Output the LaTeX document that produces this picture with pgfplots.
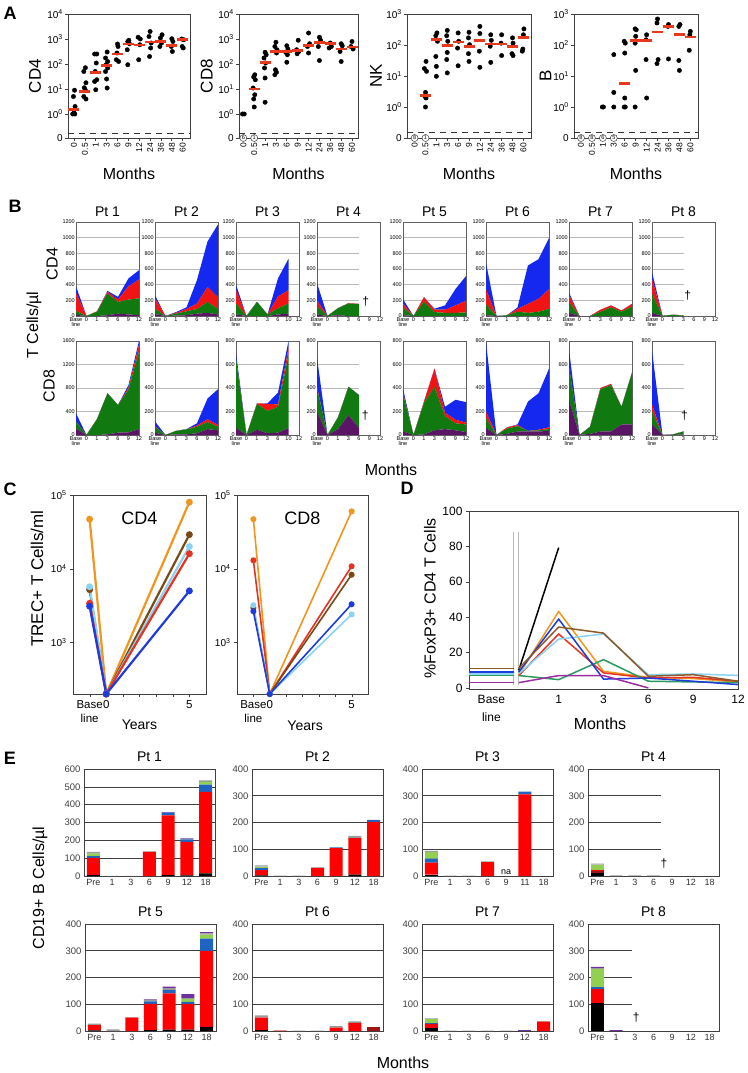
\documentclass[border=0pt]{standalone}
\usepackage{fontspec}
\setmainfont{Liberation Sans}
\usepackage{pgfplots}
\pgfplotsset{compat=1.18}
\newcommand{\fs}[1]{\fontsize{#1}{#1}\selectfont}
\newcommand{\sx}[1]{10\textsuperscript{#1}}
\definecolor{bpur}{HTML}{5A1566}
\definecolor{bgrn}{HTML}{107A10}
\definecolor{bred}{HTML}{F01414}
\definecolor{bblu}{HTML}{1428F0}
\definecolor{corange}{HTML}{F0961E}
\definecolor{cbrown}{HTML}{7A4A14}
\definecolor{clblue}{HTML}{8AD4F2}
\definecolor{cred}{HTML}{E63222}
\definecolor{cblue}{HTML}{1E3CDC}
\definecolor{dbrown}{HTML}{8C5A28}
\definecolor{dgreen}{HTML}{2A9A60}
\definecolor{dpurple}{HTML}{9A2EA0}
\definecolor{edred}{HTML}{A01418}
\definecolor{ered}{HTML}{FF0000}
\definecolor{eblue}{HTML}{1E64C0}
\definecolor{egreen}{HTML}{92D050}
\definecolor{egray}{HTML}{9A9A9A}
\definecolor{epur}{HTML}{7030A0}
\definecolor{medred}{HTML}{E8381E}
\pgfplotsset{
 every axis/.append style={scale only axis, anchor=north west,
   /pgf/number format/assume math mode=true, /pgf/number format/1000 sep={}},
 Aax/.style={height=124pt, clip=false,
   xtick={0,...,10}, xticklabels={0,0.5,1,3,6,9,12,24,36,48,60},
   xticklabel style={rotate=90, anchor=east, font=\fs{8.5}, inner sep=2pt},
   yticklabel style={font=\fs{10}, inner sep=2pt},
   tick pos=left, tick align=outside, major tick length=3pt,
   axis line style={black!75, line width=0.8pt}, tick style={black!75, line width=0.7pt},
   xlabel={Months}, xlabel style={font=\fs{16}, at={(0.5,-0.285)}, anchor=center},
   ylabel style={font=\fs{17}, anchor=center}},
 Alo/.style={ymin=-0.96, ymax=4, ytick={-0.96,0,1,2,3,4}, yticklabels={0,\sx{0},\sx{1},\sx{2},\sx{3},\sx{4}}},
 Ahi/.style={ymin=-1, ymax=3, ytick={-1,0,1,2,3}, yticklabels={0,\sx{0},\sx{1},\sx{2},\sx{3}}},
 dots/.style={only marks, mark=*, mark size=2.2pt, color=black},
 med/.style={only marks, mark=-, mark size=5.5pt, mark options={line width=2.6pt, draw=medred}},
 dsh/.style={black!80, line width=1pt, dash pattern=on 6pt off 5pt},
 zc/.style={only marks, mark=text, text mark={#1}, text mark as node=true,
   text mark style={circle, draw=black!75, line width=0.5pt, fill=white, inner sep=0.3pt, minimum size=7pt, font=\fs{5.5}, text=black}},
 Bax/.style={width=63pt, height=94pt, xmin=0, xmax=6, ymin=0, stack plots=y, no markers,
   xtick={0,...,6}, xticklabels={Base\\line,0,1,3,6,9,12},
   xticklabel style={font=\fs{5.5}, align=center, inner sep=1.5pt},
   yticklabel style={font=\fs{5.5}, inner sep=1pt},
   major tick length=0pt, ymajorgrids, grid style={gray!55, line width=0.7pt},
   axis line style={gray!75!black, line width=0.8pt},
   every axis title/.style={at={(0.5,1)}, anchor=south, yshift=2pt, font=\fs{14}},
   every axis plot/.append style={draw=none}},
 Btop/.style={ymax=1200, ytick={0,200,...,1200}},
 Bbot/.style={ymax=800, ytick={0,200,...,800}},
 Bgrid/.style={width=63pt, height=94pt, xmin=0, xmax=6, ymin=0, hide axis},
 gl/.style={gray!55, line width=0.7pt, no markers},
 Cax/.style={height=199pt, ymin=200, ymax=100000, xmin=-2, xmax=6,
   xtick={-1,0,1,2,3,4,5}, xticklabels={Base\\line,0,,,,,5},
   xticklabel style={font=\fontsize{11.5}{14}\selectfont, align=center},
   ytick={1000,10000,100000}, yticklabels={\sx{3},\sx{4},\sx{5}}, yticklabel style={font=\fs{10}},
   yminorticks=false, tick pos=left, tick align=outside, major tick length=3pt,
   axis line style={black!75, line width=0.8pt}, tick style={black!75},
   xlabel={Years}, xlabel style={font=\fs{14}, anchor=center},
   every axis title/.style={at={(0.5,0.885)}, anchor=center, font=\fs{18}}},
 cl/.style={color=#1, mark=*, mark size=2.3pt, line width=2.2pt},
 cl8/.style={color=#1, mark=*, mark size=2.2pt, line width=1.6pt},
 Eax/.style={width=131pt, height=107pt, ybar stacked, bar width=13pt, xmin=-0.5, xmax=6.5, ymin=0,
   xtick={0,...,6}, xticklabels={Pre,1,3,6,9,12,18}, xticklabel style={font=\fs{9}, text=black!80},
   yticklabel style={font=\fs{9.5}, text=black!75}, major tick length=0pt,
   ymajorgrids, grid style={black!75, line width=0.6pt}, axis line style={black!75, line width=0.8pt},
   every axis title/.style={at={(0.5,1)}, anchor=south, yshift=4pt, font=\fs{14}},
   every axis plot/.append style={draw=none}},
 E4/.style={ymax=400, ytick={0,100,...,400}},
 Egrid/.style={width=131pt, height=107pt, xmin=-0.5, xmax=6.5, ymin=0, ymax=400, hide axis},
 egl/.style={black!75, line width=0.6pt, no markers},
}
\begin{document}
\begin{tikzpicture}
\path[use as bounding box, fill=white] (0,0) rectangle (747pt,-1073pt);
% panel letters
\node[font=\bfseries\fs{18}] at (10pt,-13pt) {A};
\node[font=\bfseries\fs{18}] at (15pt,-206pt) {B};
\node[font=\bfseries\fs{18}] at (10pt,-489pt) {C};
\node[font=\bfseries\fs{18}] at (407pt,-488pt) {D};
\node[font=\bfseries\fs{18}] at (10pt,-758pt) {E};

% ================= A =================
\begin{axis}[Aax, Alo, at={(68pt,-14pt)}, width=122pt, xmin=-0.55, xmax=10.67, ylabel={CD4}, ylabel style={at={(-0.27,0.5)}}]
\addplot[dsh] coordinates {(-0.55,-0.76) (10.67,-0.76)};
\addplot[dots] coordinates {(-0.12,0)(0.08,0)(0.0,0.05)(0.1,0.3)(-0.05,0.7)(0.05,0.95)
 (1.05,1.85)(0.9,1.7)(1.1,1.25)(0.95,1.05)(1.05,0.95)(0.9,0.7)(1.1,0.6)
 (1.9,2.4)(2.1,2.4)(2.05,2.04)(1.95,1.7)(2.1,1.37)(1.9,1.3)(2.0,0.97)
 (3.05,2.48)(2.9,2.24)(3.1,2.1)(2.95,1.97)(3.1,1.84)(2.9,1.7)(3.0,1.4)(3.05,1.04)
 (4.0,2.8)(4.05,2.7)(3.95,2.44)(3.9,2.17)(4.1,2.1)
 (5.05,2.95)(4.95,2.9)(5.1,2.81)(4.9,2.57)(4.95,1.97)
 (5.9,3.07)(6.1,3.0)(6.05,2.77)(5.95,2.17)
 (7.0,3.3)(6.9,3.1)(7.1,2.84)(7.05,2.64)(6.95,2.3)
 (8.1,3.17)(7.95,3.04)(8.05,2.84)(7.9,2.7)
 (9.0,3.01)(9.1,2.9)(8.95,2.7)(9.05,2.5)
 (9.9,3.0)(10.1,2.97)(9.95,2.7)(10.05,2.64)};
\addplot[med] coordinates {(0,0.17)(1,0.9)(2,1.67)(3,1.93)(4,2.4)(5,2.8)(6,2.76)(7,2.88)(8,2.9)(9,2.75)(10,2.97)};
\end{axis}

\begin{axis}[Aax, Alo, at={(239pt,-14pt)}, width=119pt, xmin=-0.4, xmax=10.55, ylabel={CD8}, ylabel style={at={(-0.27,0.5)}}]
\addplot[dsh] coordinates {(-0.4,-0.76) (10.55,-0.76)};
\addplot[dots] coordinates {(-0.08,0)(0.08,0)
 (1.05,1.57)(0.95,1.48)(1.1,1.37)(0.9,1.04)(1.05,0.77)(0.95,0.6)(1.0,0.28)
 (2.0,2.47)(2.1,2.37)(1.9,2.24)(2.05,2.04)(1.95,1.84)(2.0,1.44)(2.0,0.47)
 (3.0,2.87)(2.9,2.7)(3.1,2.57)(3.05,2.44)(2.95,1.77)(3.05,1.67)(2.9,1.57)
 (4.0,2.73)(4.1,2.6)(3.9,2.47)(4.05,2.37)(4.0,2.07)
 (5.05,2.95)(4.9,2.57)(5.1,2.5)(4.95,2.41)
 (6.0,3.24)(6.1,2.81)(5.9,2.7)(6.0,2.44)
 (7.0,3.07)(7.1,2.95)(6.9,2.7)(7.0,2.14)
 (8.0,2.84)(8.1,2.7)(7.9,2.64)
 (9.0,2.81)(9.1,2.73)(8.9,2.5)(9.0,2.1)
 (10.0,2.9)(9.9,2.7)(10.1,2.6)};
\addplot[med] coordinates {(1,1.0)(2,2.07)(3,2.5)(4,2.5)(5,2.55)(6,2.73)(7,2.87)(8,2.81)(9,2.6)(10,2.68)};
\addplot[zc=6] coordinates {(0,-0.96)};
\addplot[zc=1] coordinates {(1,-0.96)};
\end{axis}

\begin{axis}[Aax, Ahi, at={(407pt,-14pt)}, width=124pt, xmin=-0.7, xmax=10.7, ylabel={NK}, ylabel style={at={(-0.25,0.5)}}]
\addplot[dsh] coordinates {(-0.7,-0.82) (10.7,-0.82)};
\addplot[dots] coordinates {(1.05,1.47)(0.9,1.24)(1.1,1.15)(1.0,0.47)(0.95,0.34)(1.05,0.29)(1.0,0)
 (2.05,2.39)(1.95,2.3)(2.1,2.12)(1.95,1.63)(2.0,1.31)(2.0,0.99)
 (3.0,2.47)(2.95,2.3)(3.05,2.12)(3.0,1.76)(2.95,1.53)(3.0,1.1)
 (4.0,2.39)(4.05,2.12)(3.95,1.9)(4.0,1.33)
 (5.0,2.41)(4.95,2.23)(5.05,2.01)(4.95,1.72)(5.0,1.47)
 (6.0,2.6)(6.0,2.37)(5.95,1.8)(6.0,1.28)
 (7.0,2.33)(7.05,2.15)(6.95,1.96)(7.0,1.44)
 (8.0,2.33)(7.95,2.06)(8.0,1.66)
 (9.0,2.23)(9.05,2.06)(8.95,1.72)(9.05,1.66)
 (10.05,2.52)(10.0,2.33)(9.95,1.87)(9.9,1.8)};
\addplot[med] coordinates {(1,0.38)(2,2.17)(3,1.98)(4,2.1)(5,1.96)(6,2.14)(7,2.03)(8,2.03)(9,1.96)(10,2.25)};
\addplot[zc=8] coordinates {(0,-1)};
\addplot[zc=1] coordinates {(1,-1)};
\end{axis}

\begin{axis}[Aax, Ahi, at={(574pt,-14pt)}, width=124pt, xmin=-0.64, xmax=10.7, ylabel={B}, ylabel style={at={(-0.23,0.5)}}]
\addplot[dsh] coordinates {(-0.64,-0.82) (10.7,-0.82)};
\addplot[dots] coordinates {(1.95,0)(2.05,0)
 (3.0,1.69)(3.0,0.47)(3.0,0)
 (3.95,2.12)(4.05,2.06)(4.0,1.74)(4.0,0.29)(3.95,0)(4.05,0)
 (4.95,2.52)(5.05,2.49)(5.0,2.28)(4.95,2.06)(5.0,1.18)(4.95,0)
 (6.0,2.33)(5.95,2.17)(5.95,1.53)(6.0,0.29)
 (7.0,2.84)(6.95,2.71)(7.05,1.53)(6.95,1.4)
 (8.0,2.66)(7.95,2.6)(8.0,1.55)
 (9.05,2.66)(8.95,2.6)(8.95,1.5)(9.0,1.18)
 (10.0,2.44)(9.95,2.33)(9.9,1.83)};
\addplot[med] coordinates {(4,0.75)(5,2.15)(6,2.15)(7,2.42)(8,2.6)(9,2.33)(10,2.26)};
\addplot[zc=8] coordinates {(0,-1)};
\addplot[zc=8] coordinates {(1,-1)};
\addplot[zc=6] coordinates {(2,-1)};
\addplot[zc=5] coordinates {(3,-1)};
\end{axis}

% ================= B =================
\node[rotate=90, font=\fs{16}] at (52pt,-264pt) {CD4};
\node[rotate=90, font=\fs{16}] at (49pt,-386pt) {CD8};
\node[rotate=90, font=\fs{16}] at (34pt,-325pt) {T Cells/µl};
\node[font=\fs{16}] at (391pt,-470pt) {Months};

\begin{axis}[Bax, Btop, at={(76pt,-222pt)}, title={Pt 1}]
\addplot[fill=bpur] coordinates {(0,15)(1,0)(2,0)(3,10)(4,30)(5,20)(6,10)} \closedcycle;
\addplot[fill=bgrn] coordinates {(0,50)(1,0)(2,55)(3,280)(4,150)(5,190)(6,215)} \closedcycle;
\addplot[fill=bred] coordinates {(0,230)(1,0)(2,5)(3,20)(4,30)(5,170)(6,240)} \closedcycle;
\addplot[fill=bblu] coordinates {(0,85)(1,0)(2,0)(3,10)(4,35)(5,100)(6,120)} \closedcycle;
\end{axis}
\begin{axis}[Bax, Btop, at={(155pt,-222pt)}, title={Pt 2}]
\addplot[fill=bpur] coordinates {(0,25)(1,0)(2,5)(3,10)(4,30)(5,40)(6,20)} \closedcycle;
\addplot[fill=bgrn] coordinates {(0,70)(1,0)(2,25)(3,50)(4,60)(5,140)(6,70)} \closedcycle;
\addplot[fill=bred] coordinates {(0,130)(1,0)(2,10)(3,30)(4,70)(5,190)(6,150)} \closedcycle;
\addplot[fill=bblu] coordinates {(0,40)(1,0)(2,10)(3,20)(4,300)(5,580)(6,930)} \closedcycle;
\end{axis}
\begin{axis}[Bax, Btop, at={(236pt,-222pt)}, title={Pt 3}, xticklabels={Base\\line,0,1,3,6,10,12}]
\addplot[fill=bpur] coordinates {(0,20)(1,0)(2,0)(3,0)(4,20)(5,30)} \closedcycle;
\addplot[fill=bgrn] coordinates {(0,140)(1,0)(2,180)(3,20)(4,80)(5,130)} \closedcycle;
\addplot[fill=bred] coordinates {(0,170)(1,0)(2,0)(3,0)(4,150)(5,170)} \closedcycle;
\addplot[fill=bblu] coordinates {(0,70)(1,0)(2,0)(3,0)(4,230)(5,400)} \closedcycle;
\end{axis}
\begin{axis}[Bgrid, ymax=1200, at={(317pt,-222pt)}]
\addplot[gl] coordinates {(0,200)(4,200)};
\addplot[gl] coordinates {(0,400)(4,400)};
\addplot[gl] coordinates {(0,600)(4,600)};
\addplot[gl] coordinates {(0,800)(4,800)};
\addplot[gl] coordinates {(0,1000)(4,1000)};
\end{axis}
\begin{axis}[Bax, Btop, ymajorgrids=false, at={(317pt,-222pt)}, title={Pt 4}]
\addplot[fill=bpur] coordinates {(0,20)(1,0)(2,10)(3,0)(4,0)} \closedcycle;
\addplot[fill=bgrn] coordinates {(0,110)(1,0)(2,90)(3,160)(4,150)} \closedcycle;
\addplot[fill=bred] coordinates {(0,70)(1,0)(2,0)(3,5)(4,5)} \closedcycle;
\addplot[fill=bblu] coordinates {(0,220)(1,0)(2,0)(3,0)(4,0)} \closedcycle;
\node[font=\fs{12}] at (axis cs:4.65,190) {\textdagger};
\end{axis}
\begin{axis}[Bax, Btop, at={(403pt,-222pt)}, title={Pt 5}]
\addplot[fill=bpur] coordinates {(0,10)(1,0)(2,0)(3,0)(4,0)(5,0)(6,0)} \closedcycle;
\addplot[fill=bgrn] coordinates {(0,100)(1,0)(2,185)(3,50)(4,40)(5,40)(6,45)} \closedcycle;
\addplot[fill=bred] coordinates {(0,50)(1,0)(2,55)(3,30)(4,40)(5,95)(6,150)} \closedcycle;
\addplot[fill=bblu] coordinates {(0,55)(1,0)(2,0)(3,13)(4,55)(5,210)(6,315)} \closedcycle;
\end{axis}
\begin{axis}[Bax, Btop, at={(486pt,-222pt)}, title={Pt 6}]
\addplot[fill=bpur] coordinates {(0,10)(1,0)(2,0)(3,0)(4,0)(5,0)(6,0)} \closedcycle;
\addplot[fill=bgrn] coordinates {(0,140)(1,0)(2,10)(3,55)(4,40)(5,55)(6,90)} \closedcycle;
\addplot[fill=bred] coordinates {(0,190)(1,0)(2,0)(3,35)(4,115)(5,165)(6,250)} \closedcycle;
\addplot[fill=bblu] coordinates {(0,340)(1,0)(2,0)(3,20)(4,490)(5,505)(6,655)} \closedcycle;
\end{axis}
\begin{axis}[Bax, Btop, at={(569pt,-222pt)}, title={Pt 7}]
\addplot[fill=bpur] coordinates {(0,40)(1,0)(2,0)(3,0)(4,0)(5,0)(6,0)} \closedcycle;
\addplot[fill=bgrn] coordinates {(0,140)(1,0)(2,0)(3,55)(4,110)(5,55)(6,120)} \closedcycle;
\addplot[fill=bred] coordinates {(0,90)(1,0)(2,0)(3,25)(4,25)(5,15)(6,35)} \closedcycle;
\addplot[fill=bblu] coordinates {(0,30)(1,0)(2,0)(3,0)(4,0)(5,0)(6,0)} \closedcycle;
\end{axis}
\begin{axis}[Bgrid, ymax=1200, at={(652pt,-222pt)}]
\addplot[gl] coordinates {(0,200)(3,200)};
\addplot[gl] coordinates {(0,400)(3,400)};
\addplot[gl] coordinates {(0,600)(3,600)};
\addplot[gl] coordinates {(0,800)(3,800)};
\addplot[gl] coordinates {(0,1000)(3,1000)};
\end{axis}
\begin{axis}[Bax, Btop, ymajorgrids=false, at={(652pt,-222pt)}, title={Pt 8}]
\addplot[fill=bpur] coordinates {(0,40)(1,0)(2,0)(3,0)} \closedcycle;
\addplot[fill=bgrn] coordinates {(0,240)(1,5)(2,15)(3,5)} \closedcycle;
\addplot[fill=bred] coordinates {(0,190)(1,0)(2,0)(3,5)} \closedcycle;
\addplot[fill=bblu] coordinates {(0,90)(1,0)(2,0)(3,0)} \closedcycle;
\node[font=\fs{12}] at (axis cs:3.4,265) {\textdagger};
\end{axis}

% bottom row B
\begin{axis}[Bax, ymax=1600, ytick={0,400,...,1600}, at={(76pt,-341pt)}]
\addplot[fill=bpur] coordinates {(0,110)(1,0)(2,0)(3,10)(4,40)(5,45)(6,100)} \closedcycle;
\addplot[fill=bgrn] coordinates {(0,120)(1,0)(2,270)(3,700)(4,470)(5,730)(6,1320)} \closedcycle;
\addplot[fill=bred] coordinates {(0,5)(1,0)(2,0)(3,0)(4,0)(5,30)(6,110)} \closedcycle;
\addplot[fill=bblu] coordinates {(0,135)(1,0)(2,0)(3,0)(4,0)(5,45)(6,70)} \closedcycle;
\end{axis}
\begin{axis}[Bax, Bbot, at={(155pt,-341pt)}]
\addplot[fill=bpur] coordinates {(0,20)(1,0)(2,5)(3,5)(4,15)(5,50)(6,40)} \closedcycle;
\addplot[fill=bgrn] coordinates {(0,50)(1,0)(2,30)(3,43)(4,55)(5,60)(6,30)} \closedcycle;
\addplot[fill=bred] coordinates {(0,5)(1,0)(2,0)(3,0)(4,10)(5,25)(6,15)} \closedcycle;
\addplot[fill=bblu] coordinates {(0,40)(1,0)(2,0)(3,2)(4,20)(5,175)(6,305)} \closedcycle;
\end{axis}
\begin{axis}[Bax, Bbot, at={(236pt,-341pt)}, xticklabels={Base\\line,0,1,3,6,10,12}]
\addplot[fill=bpur] coordinates {(0,60)(1,0)(2,45)(3,15)(4,20)(5,60)} \closedcycle;
\addplot[fill=bgrn] coordinates {(0,590)(1,0)(2,220)(3,190)(4,220)(5,620)} \closedcycle;
\addplot[fill=bred] coordinates {(0,0)(1,0)(2,5)(3,60)(4,20)(5,60)} \closedcycle;
\addplot[fill=bblu] coordinates {(0,50)(1,0)(2,0)(3,5)(4,100)(5,60)} \closedcycle;
\end{axis}
\begin{axis}[Bgrid, ymax=800, at={(317pt,-341pt)}]
\addplot[gl] coordinates {(0,200)(4,200)};
\addplot[gl] coordinates {(0,400)(4,400)};
\addplot[gl] coordinates {(0,600)(4,600)};
\end{axis}
\begin{axis}[Bax, Bbot, ymajorgrids=false, at={(317pt,-341pt)}]
\addplot[fill=bpur] coordinates {(0,200)(1,0)(2,50)(3,170)(4,60)} \closedcycle;
\addplot[fill=bgrn] coordinates {(0,200)(1,0)(2,100)(3,240)(4,280)} \closedcycle;
\addplot[fill=bred] coordinates {(0,10)(1,0)(2,0)(3,0)(4,0)} \closedcycle;
\addplot[fill=bblu] coordinates {(0,250)(1,0)(2,0)(3,0)(4,0)} \closedcycle;
\node[font=\fs{12}] at (axis cs:4.6,165) {\textdagger};
\end{axis}
\begin{axis}[Bax, Bbot, at={(403pt,-341pt)}]
\addplot[fill=bpur] coordinates {(0,30)(1,0)(2,5)(3,40)(4,50)(5,40)(6,25)} \closedcycle;
\addplot[fill=bgrn] coordinates {(0,320)(1,0)(2,270)(3,370)(4,110)(5,60)(6,65)} \closedcycle;
\addplot[fill=bred] coordinates {(0,10)(1,0)(2,10)(3,155)(4,30)(5,30)(6,15)} \closedcycle;
\addplot[fill=bblu] coordinates {(0,35)(1,0)(2,0)(3,0)(4,50)(5,170)(6,175)} \closedcycle;
\end{axis}
\begin{axis}[Bax, Bbot, at={(486pt,-341pt)}]
\addplot[fill=bpur] coordinates {(0,60)(1,0)(2,10)(3,30)(4,30)(5,30)(6,35)} \closedcycle;
\addplot[fill=bgrn] coordinates {(0,85)(1,0)(2,45)(3,45)(4,5)(5,10)(6,15)} \closedcycle;
\addplot[fill=bred] coordinates {(0,55)(1,0)(2,10)(3,10)(4,0)(5,5)(6,15)} \closedcycle;
\addplot[fill=bblu] coordinates {(0,590)(1,0)(2,0)(3,5)(4,250)(5,310)(6,500)} \closedcycle;
\end{axis}
\begin{axis}[Bax, Bbot, at={(569pt,-341pt)}]
\addplot[fill=bpur] coordinates {(0,300)(1,0)(2,10)(3,30)(4,30)(5,90)(6,90)} \closedcycle;
\addplot[fill=bgrn] coordinates {(0,280)(1,0)(2,60)(3,360)(4,395)(5,150)(6,440)} \closedcycle;
\addplot[fill=bred] coordinates {(0,0)(1,0)(2,0)(3,10)(4,10)(5,0)(6,0)} \closedcycle;
\addplot[fill=bblu] coordinates {(0,150)(1,0)(2,0)(3,0)(4,0)(5,0)(6,0)} \closedcycle;
\end{axis}
\begin{axis}[Bgrid, ymax=800, at={(652pt,-341pt)}]
\addplot[gl] coordinates {(0,200)(3,200)};
\addplot[gl] coordinates {(0,400)(3,400)};
\addplot[gl] coordinates {(0,600)(3,600)};
\end{axis}
\begin{axis}[Bax, Bbot, ymajorgrids=false, at={(652pt,-341pt)}]
\addplot[fill=bpur] coordinates {(0,90)(1,0)(2,0)(3,5)} \closedcycle;
\addplot[fill=bgrn] coordinates {(0,110)(1,0)(2,5)(3,25)} \closedcycle;
\addplot[fill=bred] coordinates {(0,60)(1,0)(2,0)(3,0)} \closedcycle;
\addplot[fill=bblu] coordinates {(0,460)(1,0)(2,0)(3,0)} \closedcycle;
\node[font=\fs{12}] at (axis cs:3.1,165) {\textdagger};
\end{axis}

% ================= C =================
\begin{semilogyaxis}[Cax, at={(73pt,-495pt)}, width=133pt, title={CD4}, ylabel={TREC+ T Cells/ml},
  ylabel style={font=\fs{17}, at={(-0.27,0.58)}, anchor=center}, xlabel style={at={(0.5,-0.157)}}]
\addplot[cl=corange] coordinates {(-1,47000)(0,200)(5,80000)};
\addplot[cl=cbrown] coordinates {(-1,5200)(0,200)(5,29000)};
\addplot[cl=clblue] coordinates {(-1,5700)(0,200)(5,20000)};
\addplot[cl=cred] coordinates {(-1,3400)(0,200)(5,16000)};
\addplot[cl=cblue] coordinates {(-1,3100)(0,200)(5,5000)};
\end{semilogyaxis}
\begin{semilogyaxis}[Cax, at={(237pt,-495pt)}, width=131pt, title={CD8}, xlabel style={at={(0.52,-0.16)}}]
\addplot[cl8=corange] coordinates {(-1,47000)(0,200)(5,60000)};
\addplot[cl8=cred] coordinates {(-1,13000)(0,200)(5,10800)};
\addplot[cl8=cbrown] coordinates {(-1,2950)(0,200)(5,8300)};
\addplot[cl8=clblue] coordinates {(-1,3200)(0,200)(5,2400)};
\addplot[cl8=cblue] coordinates {(-1,2650)(0,200)(5,3300)};
\end{semilogyaxis}

% ================= D =================
\begin{axis}[at={(469pt,-511pt)}, width=269pt, height=178pt, xmin=-1, xmax=5, ymin=-0.6, ymax=100,
  xtick={-0.5,1,2,3,4,5}, xticklabels={Base\\line,1,3,6,9,12},
  xticklabel style={font=\fontsize{12}{18}\selectfont, align=center},
  ytick={0,20,...,100}, yticklabel style={font=\fs{12}},
  tick pos=left, tick align=outside, major tick length=3pt, xtick style={draw=none}, ytick style={black!75},
  axis line style={black!75, line width=0.8pt},
  ylabel={\%FoxP3+ CD4 T Cells}, ylabel style={font=\fs{16}, at={(-0.145,0.51)}, anchor=center},
  xlabel={Months}, xlabel style={font=\fs{16}, at={(0.487,-0.197)}, anchor=center},
  every axis plot/.append style={line width=1.5pt, no markers}]
\addplot[gray!55, line width=0.8pt] coordinates {(0,1.5)(0,88)};
\addplot[gray!55, line width=0.8pt] coordinates {(0.11,1.5)(0.11,88)};
\addplot[corange] coordinates {(-1,7.5)(0,7.5)};
\addplot[corange] coordinates {(0.11,7.5)(1,43.2)(2,9.4)(3,6)(4,5.3)(5,3.4)};
\addplot[cred] coordinates {(-1,7)(0,7)};
\addplot[cred] coordinates {(0.11,7)(1,30.5)(2,8.5)(3,5.6)(4,6)(5,3.8)};
\addplot[clblue] coordinates {(-1,8)(0,8)};
\addplot[clblue] coordinates {(0.11,8)(1,27.6)(2,30.5)(3,7.5)(4,7.9)(5,7.1)};
\addplot[black] coordinates {(0.11,10)(1,79.3)};
\addplot[dgreen] coordinates {(-1,7)(0,7)};
\addplot[dgreen] coordinates {(0.11,7)(1,4.7)(2,16)(3,3.8)(4,3.4)(5,3)};
\addplot[cblue] coordinates {(-1,9)(0,9)};
\addplot[cblue] coordinates {(0.11,9)(1,38.9)(2,5)(3,5.6)(4,3.8)(5,1.9)};
\addplot[dbrown] coordinates {(-1,11)(0,11)};
\addplot[dbrown] coordinates {(0.11,11)(1,34.4)(2,31)(3,6.6)(4,7.5)(5,3.8)};
\addplot[dpurple] coordinates {(-1,3)(0,3)};
\addplot[dpurple] coordinates {(0.11,3)(1,7)(2,7)(3,0)};
\end{axis}

% ================= E =================
\node[rotate=90, font=\fs{16}] at (40pt,-888pt) {CD19+ B Cells/µl};
\node[font=\fs{16}] at (403pt,-1063pt) {Months};

\begin{axis}[Eax, ymax=600, ytick={0,100,...,600}, at={(84pt,-769pt)}, title={Pt 1}]
\addplot[fill=black] coordinates {(0,5)(1,0)(2,0)(3,0)(4,5)(5,3)(6,15)};
\addplot[fill=ered] coordinates {(0,97)(1,0)(2,0)(3,136)(4,335)(5,188)(6,457)};
\addplot[fill=eblue] coordinates {(0,9)(1,0)(2,0)(3,0)(4,15)(5,15)(6,41)};
\addplot[fill=egreen] coordinates {(0,15)(1,0)(2,0)(3,0)(4,0)(5,0)(6,15)};
\addplot[fill=egray] coordinates {(0,10)(1,1)(2,1)(3,2)(4,0)(5,4)(6,8)};
\addplot[fill=epur] coordinates {(0,0)(1,0)(2,0)(3,0)(4,3)(5,3)(6,0)};
\end{axis}
\begin{axis}[Eax, E4, at={(252pt,-769pt)}, title={Pt 2}]
\addplot[fill=black] coordinates {(0,2)(1,0)(2,0)(3,0)(4,0)(5,5)(6,0)};
\addplot[fill=ered] coordinates {(0,20)(1,0)(2,0)(3,30)(4,104)(5,137)(6,202)};
\addplot[fill=eblue] coordinates {(0,7)(1,0)(2,0)(3,0)(4,3)(5,0)(6,8)};
\addplot[fill=egreen] coordinates {(0,6)(1,0)(2,0)(3,0)(4,0)(5,0)(6,0)};
\addplot[fill=egray] coordinates {(0,5)(1,1)(2,1)(3,2)(4,0)(5,8)(6,0)};
\end{axis}
\begin{axis}[Eax, E4, at={(422pt,-769pt)}, title={Pt 3}, xticklabels={Pre,1,3,6,9,11,18}]
\addplot[fill=black] coordinates {(0,5)(1,0)(2,0)(3,0)(4,0)(5,0)(6,0)};
\addplot[fill=ered] coordinates {(0,45)(1,0)(2,0)(3,52)(4,0)(5,305)(6,0)};
\addplot[fill=eblue] coordinates {(0,15)(1,0)(2,0)(3,0)(4,0)(5,10)(6,0)};
\addplot[fill=egreen] coordinates {(0,23)(1,0)(2,0)(3,0)(4,0)(5,0)(6,0)};
\addplot[fill=egray] coordinates {(0,6)(1,1)(2,1)(3,3)(4,0)(5,0)(6,0)};
\node[font=\fs{9}] at (axis cs:4,13) {na};
\end{axis}
\begin{axis}[Egrid, at={(588pt,-769pt)}]
\addplot[egl] coordinates {(-0.5,100)(3.4,100)};
\addplot[egl] coordinates {(-0.5,200)(3.4,200)};
\addplot[egl] coordinates {(-0.5,300)(3.4,300)};
\end{axis}
\begin{axis}[Eax, E4, ymajorgrids=false, at={(588pt,-769pt)}, title={Pt 4}]
\addplot[fill=black] coordinates {(0,12)(1,0)(2,0)(3,0)(4,0)(5,0)(6,0)};
\addplot[fill=edred] coordinates {(0,8)(1,0)(2,0)(3,0)(4,0)(5,0)(6,0)};
\addplot[fill=ered] coordinates {(0,3)(1,0)(2,0)(3,0)(4,0)(5,0)(6,0)};
\addplot[fill=egreen] coordinates {(0,20)(1,0)(2,0)(3,0)(4,0)(5,0)(6,0)};
\addplot[fill=egray] coordinates {(0,3)(1,2)(2,2)(3,2)(4,0)(5,0)(6,0)};
\node[font=\fs{12}] at (axis cs:3.56,48) {\textdagger};
\end{axis}

\begin{axis}[Eax, E4, at={(85pt,-924pt)}, title={Pt 5}]
\addplot[fill=black] coordinates {(0,2)(1,0)(2,0)(3,3)(4,5)(5,5)(6,15)};
\addplot[fill=ered] coordinates {(0,20)(1,0)(2,50)(3,98)(4,136)(5,96)(6,285)};
\addplot[fill=eblue] coordinates {(0,0)(1,0)(2,0)(3,10)(4,12)(5,8)(6,45)};
\addplot[fill=egreen] coordinates {(0,0)(1,0)(2,0)(3,0)(4,0)(5,10)(6,15)};
\addplot[fill=egray] coordinates {(0,6)(1,6)(2,2)(3,5)(4,7)(5,4)(6,5)};
\addplot[fill=epur] coordinates {(0,0)(1,0)(2,0)(3,2)(4,6)(5,15)(6,5)};
\end{axis}
\begin{axis}[Eax, E4, at={(252pt,-924pt)}, title={Pt 6}]
\addplot[fill=black] coordinates {(0,2)(1,0)(2,0)(3,0)(4,0)(5,0)(6,0)};
\addplot[fill=edred] coordinates {(0,0)(1,0)(2,0)(3,0)(4,0)(5,0)(6,14)};
\addplot[fill=ered] coordinates {(0,48)(1,1)(2,0)(3,0)(4,13)(5,30)(6,0)};
\addplot[fill=egray] coordinates {(0,8)(1,1)(2,1)(3,1)(4,5)(5,6)(6,0)};
\end{axis}
\begin{axis}[Eax, E4, at={(422pt,-924pt)}, title={Pt 7}]
\addplot[fill=black] coordinates {(0,10)(1,0)(2,0)(3,0)(4,0)(5,0)(6,0)};
\addplot[fill=ered] coordinates {(0,17)(1,0)(2,0)(3,0)(4,0)(5,0)(6,35)};
\addplot[fill=eblue] coordinates {(0,2)(1,0)(2,0)(3,0)(4,0)(5,0)(6,0)};
\addplot[fill=egreen] coordinates {(0,16)(1,0)(2,0)(3,0)(4,0)(5,0)(6,0)};
\addplot[fill=egray] coordinates {(0,2)(1,1)(2,1)(3,1)(4,1)(5,0)(6,2)};
\addplot[fill=epur] coordinates {(0,0)(1,0)(2,0)(3,0)(4,0)(5,3)(6,0)};
\end{axis}
\begin{axis}[Egrid, at={(588pt,-924pt)}]
\addplot[egl] coordinates {(-0.5,100)(1.85,100)};
\addplot[egl] coordinates {(-0.5,200)(1.85,200)};
\addplot[egl] coordinates {(-0.5,300)(1.85,300)};
\end{axis}
\begin{axis}[Eax, E4, ymajorgrids=false, at={(588pt,-924pt)}, title={Pt 8}]
\addplot[fill=black] coordinates {(0,103)(1,0)(2,0)(3,0)(4,0)(5,0)(6,0)};
\addplot[fill=ered] coordinates {(0,55)(1,0)(2,0)(3,0)(4,0)(5,0)(6,0)};
\addplot[fill=eblue] coordinates {(0,8)(1,0)(2,0)(3,0)(4,0)(5,0)(6,0)};
\addplot[fill=egreen] coordinates {(0,64)(1,0)(2,0)(3,0)(4,0)(5,0)(6,0)};
\addplot[fill=egray] coordinates {(0,5)(1,0)(2,0)(3,0)(4,0)(5,0)(6,0)};
\addplot[fill=epur] coordinates {(0,5)(1,3)(2,0)(3,0)(4,0)(5,0)(6,0)};
\node[font=\fs{12}] at (axis cs:2.07,52) {\textdagger};
\end{axis}
\end{tikzpicture}
\end{document}
